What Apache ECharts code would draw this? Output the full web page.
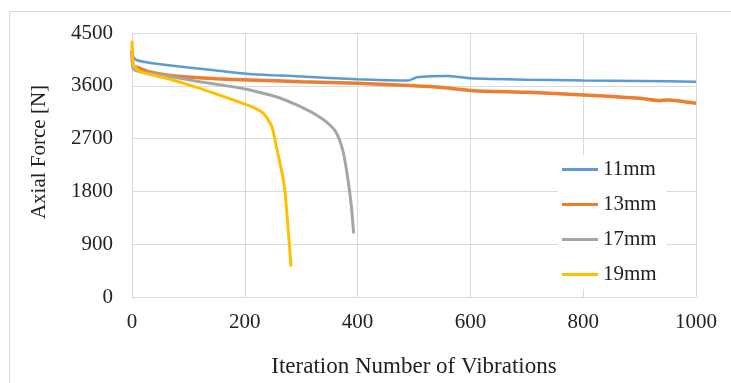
<!DOCTYPE html>
<html>
<head>
<meta charset="utf-8">
<script src="https://cdn.jsdelivr.net/npm/echarts@6/dist/echarts.min.js"></script>
<style>
  html, body { margin: 0; padding: 0; background: #fff; }
  #chart { width: 731px; height: 383px; }
</style>
</head>
<body>
<div id="chart"></div>
<script>
// values: [iteration, axial force N]
const force11mm = [
  [0, 4300], [1, 4150], [3, 4080], [8, 4040], [20, 4010], [40, 3980], [61, 3955],
  [100, 3910], [150, 3860], [209, 3801], [250, 3780], [300, 3760], [400, 3711],
  [490, 3690], [505, 3745], [560, 3765], [600, 3730], [700, 3705], [800, 3690],
  [900, 3683], [1000, 3670]
];
const force13mm = [
  [0, 4200], [1, 4000], [3, 3930], [14, 3898], [30, 3840], [61, 3784], [100, 3750],
  [150, 3720], [209, 3699], [300, 3670], [400, 3643], [500, 3600], [546, 3574],
  [605, 3517], [700, 3490], [800, 3443], [900, 3387], [935, 3345], [950, 3360],
  [1000, 3302]
];
const force17mm = [
  [0, 4200], [1, 3950], [3, 3880], [14, 3840], [61, 3767], [120, 3670], [174, 3590],
  [209, 3530], [233, 3472], [260, 3400], [292, 3273], [327, 3102], [351, 2932],
  [363, 2790], [375, 2450], [383, 1994], [389, 1539], [393, 1086]
];
const force19mm = [
  [0, 4370], [1, 4100], [2.4, 3955], [14, 3841], [61, 3728], [120, 3557], [180, 3358],
  [209, 3256], [233, 3131], [248, 2904], [256, 2563], [265, 2165], [271, 1824],
  [277, 1142], [282, 517]
];
const seriesNames = ['11mm', '13mm', '17mm', '19mm'];
const seriesColors = ['#5B9BD5', '#ED7D31', '#A5A5A5', '#FFC000'];
const seriesWidths = [2.5, 3.5, 3, 3];

const font = 'Liberation Serif';
const textColor = '#222';
const fontSize = 21;

const chart = echarts.init(document.getElementById('chart'));

chart.setOption({
  animation: false,
  textStyle: { fontFamily: font },
  graphic: [{
    type: 'rect',
    shape: { x: 9.5, y: 11.5, width: 800, height: 400 },
    style: { fill: 'none', stroke: '#d9d9d9', lineWidth: 1 },
    silent: true
  }],
  grid: { left: 132, right: 35, top: 33, bottom: 86 },
  legend: {
    orient: 'vertical',
    left: 558,
    top: 155,
    backgroundColor: '#fff',
    padding: [4, 10, 4, 4],
    itemWidth: 36,
    itemHeight: 3,
    itemGap: 14,
    icon: 'rect',
    textStyle: { fontFamily: font, fontSize: fontSize, color: textColor },
    data: seriesNames
  },
  xAxis: {
    type: 'value',
    min: 0,
    max: 1000,
    interval: 200,
    name: 'Iteration Number of Vibrations',
    nameLocation: 'middle',
    nameGap: 58,
    nameTextStyle: { fontFamily: font, fontSize: 23, color: textColor },
    axisLine: { show: false },
    axisTick: { show: false },
    axisLabel: {
      fontFamily: font, fontSize: fontSize, color: textColor, margin: 15,
      formatter: (v) => String(v)
    },
    splitLine: { show: true, lineStyle: { color: '#d9d9d9', width: 1 } }
  },
  yAxis: {
    type: 'value',
    min: 0,
    max: 4500,
    interval: 900,
    name: 'Axial Force [N]',
    nameLocation: 'middle',
    nameGap: 82,
    nameTextStyle: {
      fontFamily: font, fontSize: fontSize, color: textColor,
      padding: [0, 0, 0, 26]
    },
    axisLine: { show: false },
    axisTick: { show: false },
    axisLabel: {
      fontFamily: font, fontSize: fontSize, color: textColor, margin: 19,
      formatter: (v) => String(v)
    },
    splitLine: { show: true, lineStyle: { color: '#d9d9d9', width: 1 } }
  },
  series: [force11mm, force13mm, force17mm, force19mm].map((data, i) => ({
    name: seriesNames[i],
    type: 'line',
    data: data,
    showSymbol: false,
    smooth: 0.2,
    color: seriesColors[i],
    lineStyle: { width: seriesWidths[i], color: seriesColors[i] },
    z: 2 + i
  }))
});
</script>
</body>
</html>
